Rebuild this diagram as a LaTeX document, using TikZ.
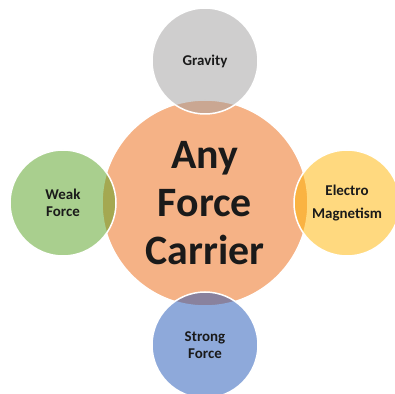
\documentclass[tikz,border=0pt]{standalone}
\usepackage{fontspec}
\setmainfont{Carlito}
\usepackage{tikz}
\usetikzlibrary{positioning}
\definecolor{corecolor}{RGB}{245,178,134}
\definecolor{gravitycolor}{RGB}{160,158,158}
\definecolor{weakcolor}{RGB}{84,160,30}
\definecolor{electrocolor}{RGB}{255,180,0}
\definecolor{strongcolor}{RGB}{30,84,182}
\definecolor{labelcolor}{RGB}{26,26,26}

\begin{document}
\begin{tikzpicture}[
    node distance=-14bp,
    every node/.style={circle, draw=white, line width=1.5bp, outer sep=0pt, inner sep=0pt, align=center, text=labelcolor},
    core/.style={fill=corecolor, minimum size=206bp, font=\fontsize{42}{48}\selectfont\bfseries},
    force/.style={fill opacity=0.5, text opacity=1, draw opacity=1, minimum size=106bp, font=\fontsize{15}{16.5}\selectfont\bfseries}
]
    \useasboundingbox (0,0) rectangle (395bp,394bp);
    \node[core] (carrier) at (205bp,191bp) {Any\\Force\\Carrier};
    \node[force, fill=gravitycolor, above=of carrier] (gravity) {Gravity};
    \node[force, fill=weakcolor, left=of carrier] (weak) {Weak\\Force};
    \node[force, fill=electrocolor, right=of carrier, font=\fontsize{15}{23}\selectfont\bfseries] (electro) {Electro\\Magnetism};
    \node[force, fill=strongcolor, below=of carrier] (strong) {Strong\\Force};
\end{tikzpicture}
\end{document}
